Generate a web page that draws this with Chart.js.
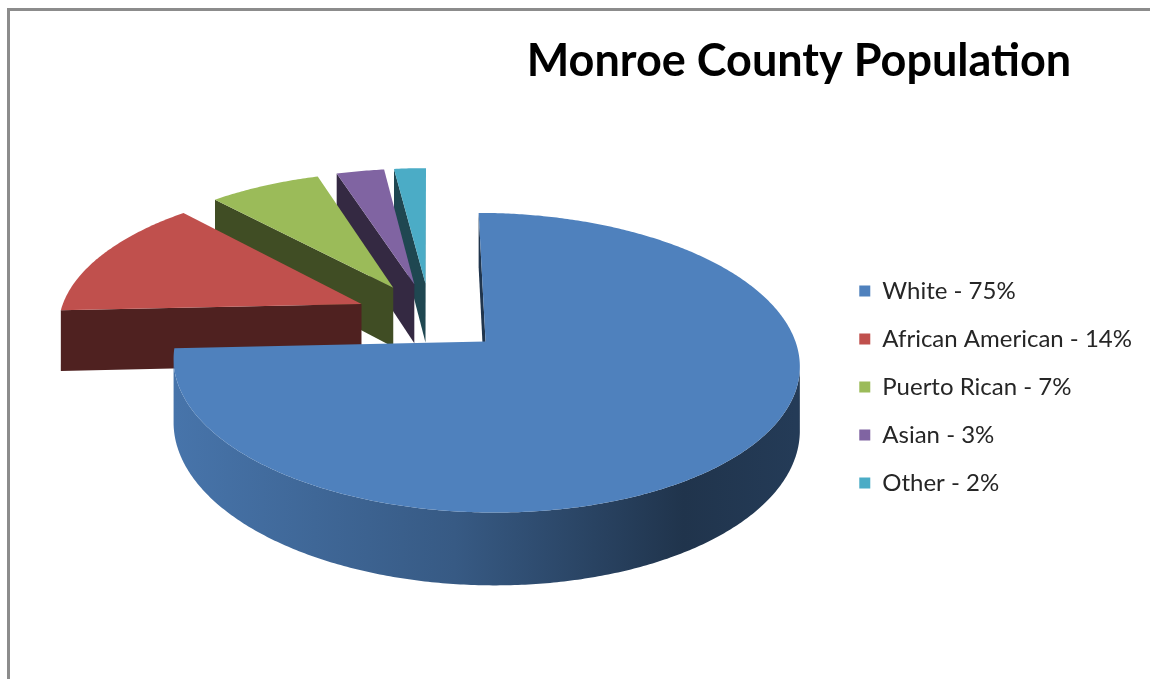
<!DOCTYPE html>
<html>
<head>
<meta charset="utf-8">
<title>Monroe County Population</title>
<script src="https://cdn.jsdelivr.net/npm/chart.js@4.4.1/dist/chart.umd.min.js"></script>
<style>
    html, body { margin: 0; padding: 0; background: #fff; overflow: hidden; }
    #grafico { position: absolute; left: 0; top: 0; }
    #marco {
        position: absolute; left: 7px; top: 8px; width: 1300px; height: 900px;
        border: 3px solid #8c8c8c; pointer-events: none;
    }
</style>
</head>
<body>
<canvas id="grafico" width="1150" height="679"></canvas>
<div id="marco"></div>
<script>
// datos
const titulo = "Monroe County Population";
const categorias = ["White", "African American", "Puerto Rican", "Asian", "Other"];
const porcentajes = [75, 14, 7, 3, 2];
const colores = ["#4F81BD", "#C0504D", "#9BBB59", "#8064A2", "#4BACC6"];

function sombra(hex, f) {
    const n = parseInt(hex.slice(1), 16);
    const r = Math.round(((n >> 16) & 255) * f);
    const g = Math.round(((n >> 8) & 255) * f);
    const b = Math.round((n & 255) * f);
    return `rgb(${r}, ${g}, ${b})`;
}

// pie "3D" con perspectiva, a partir de los arcos que calcula Chart.js
const pie3d = {
    id: "pie3d",
    beforeDatasetsDraw(chart, args, o) {
        const ctx = chart.ctx;
        const arcs = chart.getDatasetMeta(0).data;
        const medio = a => (a.startAngle + a.endAngle) / 2;
        const orden = arcs.map((a, i) => i)
            .sort((i, j) => Math.sin(medio(arcs[i])) - Math.sin(medio(arcs[j])));

        const poligono = pts => {
            ctx.beginPath();
            pts.forEach((p, j) => j ? ctx.lineTo(p[0], p[1]) : ctx.moveTo(p[0], p[1]));
            ctx.closePath();
            ctx.fill();
        };

        orden.forEach(i => {
            const arc = arcs[i];
            const { x, y, startAngle: a0, endAngle: a1, outerRadius: R } = arc;
            const base = arc.options.backgroundColor;
            const m = medio(arc);
            const cu = Math.cos(m) * o.explode, cv = Math.sin(m) * o.explode;
            // (u, v) en el plano del pie, h hacia abajo
            const P = (u, v, h) => {
                const s = o.distance / (o.distance - v);
                return [x + u * s, y + (o.tilt * v + h) * s];
            };
            const borde = t => [cu + R * Math.cos(t), cv + R * Math.sin(t)];
            const n = Math.max(2, Math.ceil((a1 - a0) / 0.01));
            const angs = [];
            for (let j = 0; j <= n; j++) angs.push(a0 + (a1 - a0) * j / n);

            ctx.save();

            // caras radiales visibles
            ctx.fillStyle = sombra(base, 0.41);
            [[a0, 1], [a1, -1]].forEach(([a, sg]) => {
                const nu = sg * Math.sin(a), nv = -sg * Math.cos(a);
                if (-cu * nu + (o.distance - cv) * nv <= 0) return;
                const [eu, ev] = borde(a);
                poligono([P(cu, cv, 0), P(eu, ev, 0), P(eu, ev, o.depth), P(cu, cv, o.depth)]);
            });

            // pared exterior visible
            const visible = t => {
                const [pu, pv] = borde(t);
                return -pu * Math.cos(t) + (o.distance - pv) * Math.sin(t) > 0;
            };
            const tramos = [];
            let tramo = [];
            angs.forEach(t => {
                if (visible(t)) tramo.push(t);
                else if (tramo.length) { tramos.push(tramo); tramo = []; }
            });
            if (tramo.length) tramos.push(tramo);

            const xl = P(cu - R, cv, 0)[0], xr = P(cu + R, cv, 0)[0];
            const grad = ctx.createLinearGradient(xl, 0, xr, 0);
            grad.addColorStop(0, sombra(base, 0.9));
            grad.addColorStop(0.45, sombra(base, 0.7));
            grad.addColorStop(0.82, sombra(base, 0.4));
            grad.addColorStop(1, sombra(base, 0.46));
            ctx.fillStyle = grad;
            tramos.forEach(tr => {
                if (tr.length < 2) return;
                const arriba = tr.map(t => P(...borde(t), 0));
                const abajo = tr.slice().reverse().map(t => P(...borde(t), o.depth));
                poligono(arriba.concat(abajo));
            });

            // tapa
            ctx.fillStyle = base;
            poligono([P(cu, cv, 0)].concat(angs.map(t => P(...borde(t), 0))));
            ctx.restore();
        });
        return false;
    }
};

const tituloPlugin = {
    id: "tituloFijo",
    afterDraw(chart, args, opts) {
        const ctx = chart.ctx;
        ctx.save();
        ctx.font = opts.font;
        ctx.fillStyle = opts.color;
        ctx.textAlign = "center";
        ctx.textBaseline = "alphabetic";
        ctx.fillText(opts.text, opts.x, opts.y);
        ctx.restore();
    }
};

const ctx = document.getElementById("grafico").getContext("2d");
new Chart(ctx, {
    type: "pie",
    data: {
        labels: categorias.map((c, i) => `${c} - ${porcentajes[i]}%`),
        datasets: [{
            data: porcentajes,
            backgroundColor: colores,
            borderWidth: 0
        }]
    },
    options: {
        responsive: false,
        animation: false,
        layout: {
            padding: { left: 24.7, right: 8, top: 14.4, bottom: 59.6 }
        },
        plugins: {
            title: { display: false },
            tooltip: { enabled: false },
            legend: {
                position: "right",
                align: "center",
                title: {
                    display: true,
                    text: "",
                    padding: { top: 0, bottom: 125.8 }
                },
                labels: {
                    boxWidth: 11,
                    boxHeight: 11,
                    padding: 24,
                    color: "#262626",
                    font: { family: "Lato", size: 24 }
                }
            },
            pie3d: { tilt: 0.4625, depth: 61, explode: 75, distance: 2180 },
            tituloFijo: {
                text: titulo,
                x: 799,
                y: 76,
                font: "bold 45px Lato",
                color: "#000"
            }
        }
    },
    plugins: [pie3d, tituloPlugin]
});
</script>
</body>
</html>
